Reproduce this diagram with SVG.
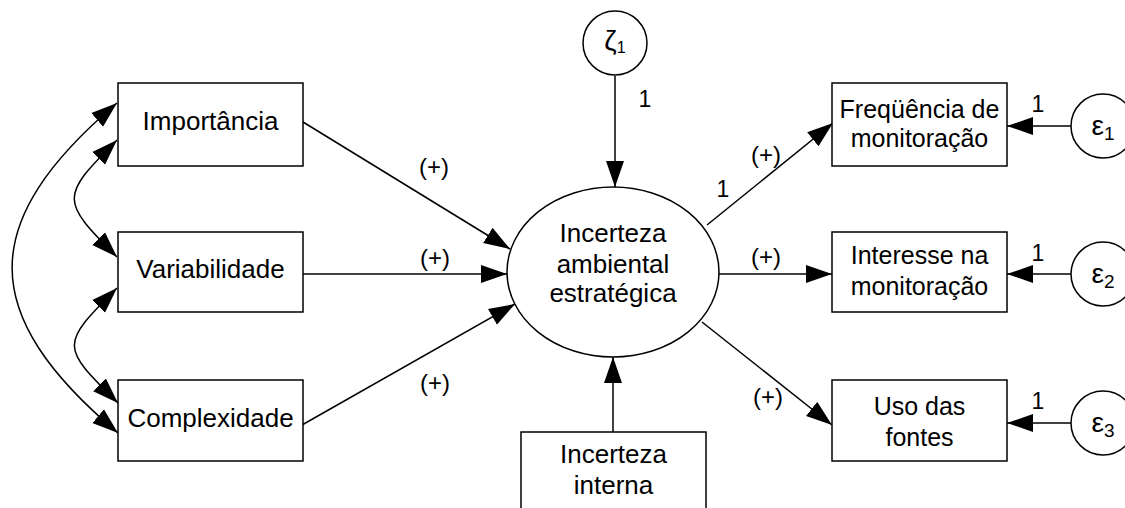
<svg xmlns="http://www.w3.org/2000/svg" width="1125" height="508" viewBox="0 0 1125 508">
<style>
.box{fill:#fff;stroke:#000;stroke-width:1.5}
.ln{fill:none;stroke:#000;stroke-width:1.5}
.t{font-family:"Liberation Sans",Arial,sans-serif;font-size:26px;text-anchor:middle;fill:#000}
.tr{font-family:"Liberation Sans",Arial,sans-serif;font-size:25px;text-anchor:middle;fill:#000}
.lb{font-family:"Liberation Sans",Arial,sans-serif;font-size:24px;text-anchor:middle;fill:#000}
.one{font-family:"Liberation Sans",Arial,sans-serif;font-size:23px;text-anchor:middle;fill:#000}
.gk{font-family:"Liberation Sans",Arial,sans-serif;font-size:28px;text-anchor:middle;fill:#000}
.gz{font-family:"Liberation Sans",Arial,sans-serif;font-size:28px;text-anchor:middle;fill:#000}
.sub{font-size:19px}
.subz{font-size:16px}
</style>
<defs>
<marker id="ah" markerUnits="userSpaceOnUse" markerWidth="28" markerHeight="20" refX="26" refY="9" orient="auto-start-reverse" viewBox="0 0 28 18">
<path d="M0,0 L26,9 L0,18 Z" fill="#000"/>
</marker>
</defs>
<rect width="1125" height="508" fill="#fff"/>

<g id="connectors">
<line class="ln" x1="303" y1="122" x2="510" y2="249" marker-end="url(#ah)"/>
<line class="ln" x1="303" y1="274" x2="507" y2="274" marker-end="url(#ah)"/>
<line class="ln" x1="302" y1="425" x2="515" y2="304" marker-end="url(#ah)"/>
<line class="ln" x1="615" y1="76" x2="615" y2="187" marker-end="url(#ah)"/>
<line class="ln" x1="613" y1="432" x2="613" y2="357" marker-end="url(#ah)"/>
<line class="ln" x1="707" y1="225" x2="833" y2="123" marker-end="url(#ah)"/>
<line class="ln" x1="719" y1="274" x2="832" y2="274" marker-end="url(#ah)"/>
<line class="ln" x1="702" y1="322" x2="832" y2="425" marker-end="url(#ah)"/>
<line class="ln" x1="1071" y1="126" x2="1007" y2="126" marker-end="url(#ah)"/>
<line class="ln" x1="1071" y1="274" x2="1007" y2="274" marker-end="url(#ah)"/>
<line class="ln" x1="1071" y1="423" x2="1007" y2="423" marker-end="url(#ah)"/>
<path class="ln" d="M117,103 C-23,222 -23,314 118,433" marker-start="url(#ah)" marker-end="url(#ah)"/>
<path class="ln" d="M117,140 C60,197 60,200 117,257" marker-start="url(#ah)" marker-end="url(#ah)"/>
<path class="ln" d="M117,288 C60,345 60,346 118,403" marker-start="url(#ah)" marker-end="url(#ah)"/>
</g>

<g id="labels">
<text class="lb" x="434" y="175">(+)</text>
<text class="lb" x="435" y="266">(+)</text>
<text class="lb" x="435" y="391">(+)</text>
<text class="lb" x="766" y="163">(+)</text>
<text class="lb" x="766" y="265">(+)</text>
<text class="lb" x="768" y="405">(+)</text>
<text class="one" x="723" y="197">1</text>
<text class="one" x="645" y="107">1</text>
<text class="one" x="1038" y="112">1</text>
<text class="one" x="1038" y="261">1</text>
<text class="one" x="1038" y="409">1</text>
</g>

<g id="n-importancia">
<rect class="box" x="118" y="83" width="185" height="83"/>
<text class="t" x="210.5" y="130">Importância</text>
</g>
<g id="n-variabilidade">
<rect class="box" x="118" y="232" width="185" height="80"/>
<text class="t" x="210.5" y="278">Variabilidade</text>
</g>
<g id="n-complexidade">
<rect class="box" x="118" y="380" width="185" height="81"/>
<text class="t" x="210.5" y="427">Complexidade</text>
</g>
<g id="n-zeta">
<circle class="box" cx="615" cy="43" r="32"/>
<text class="gz" x="615" y="50">ζ<tspan class="subz" dy="3">1</tspan></text>
</g>
<g id="n-iae">
<ellipse class="box" cx="613" cy="272" rx="106" ry="85"/>
<text class="t" x="613" y="242">Incerteza</text>
<text class="t" x="613" y="273">ambiental</text>
<text class="t" x="613" y="302">estratégica</text>
</g>
<g id="n-interna">
<rect class="box" x="521" y="432" width="185" height="90"/>
<text class="t" x="613.5" y="463">Incerteza</text>
<text class="t" x="613.5" y="494">interna</text>
</g>
<g id="n-freq">
<rect class="box" x="832" y="83" width="175" height="83"/>
<text class="tr" x="919.5" y="118">Freqüência de</text>
<text class="tr" x="919.5" y="147">monitoração</text>
</g>
<g id="n-interesse">
<rect class="box" x="832" y="232" width="175" height="80"/>
<text class="tr" x="919.5" y="264">Interesse na</text>
<text class="tr" x="919.5" y="295">monitoração</text>
</g>
<g id="n-uso">
<rect class="box" x="832" y="380" width="175" height="81"/>
<text class="tr" x="919.5" y="415">Uso das</text>
<text class="tr" x="919.5" y="446">fontes</text>
</g>
<g id="n-e1">
<circle class="box" cx="1103" cy="126" r="32"/>
<text class="gk" x="1103" y="135">ε<tspan class="sub" dy="5">1</tspan></text>
</g>
<g id="n-e2">
<circle class="box" cx="1103" cy="274" r="32"/>
<text class="gk" x="1103" y="283">ε<tspan class="sub" dy="5">2</tspan></text>
</g>
<g id="n-e3">
<circle class="box" cx="1103" cy="423" r="32"/>
<text class="gk" x="1103" y="432">ε<tspan class="sub" dy="5">3</tspan></text>
</g>
</svg>
